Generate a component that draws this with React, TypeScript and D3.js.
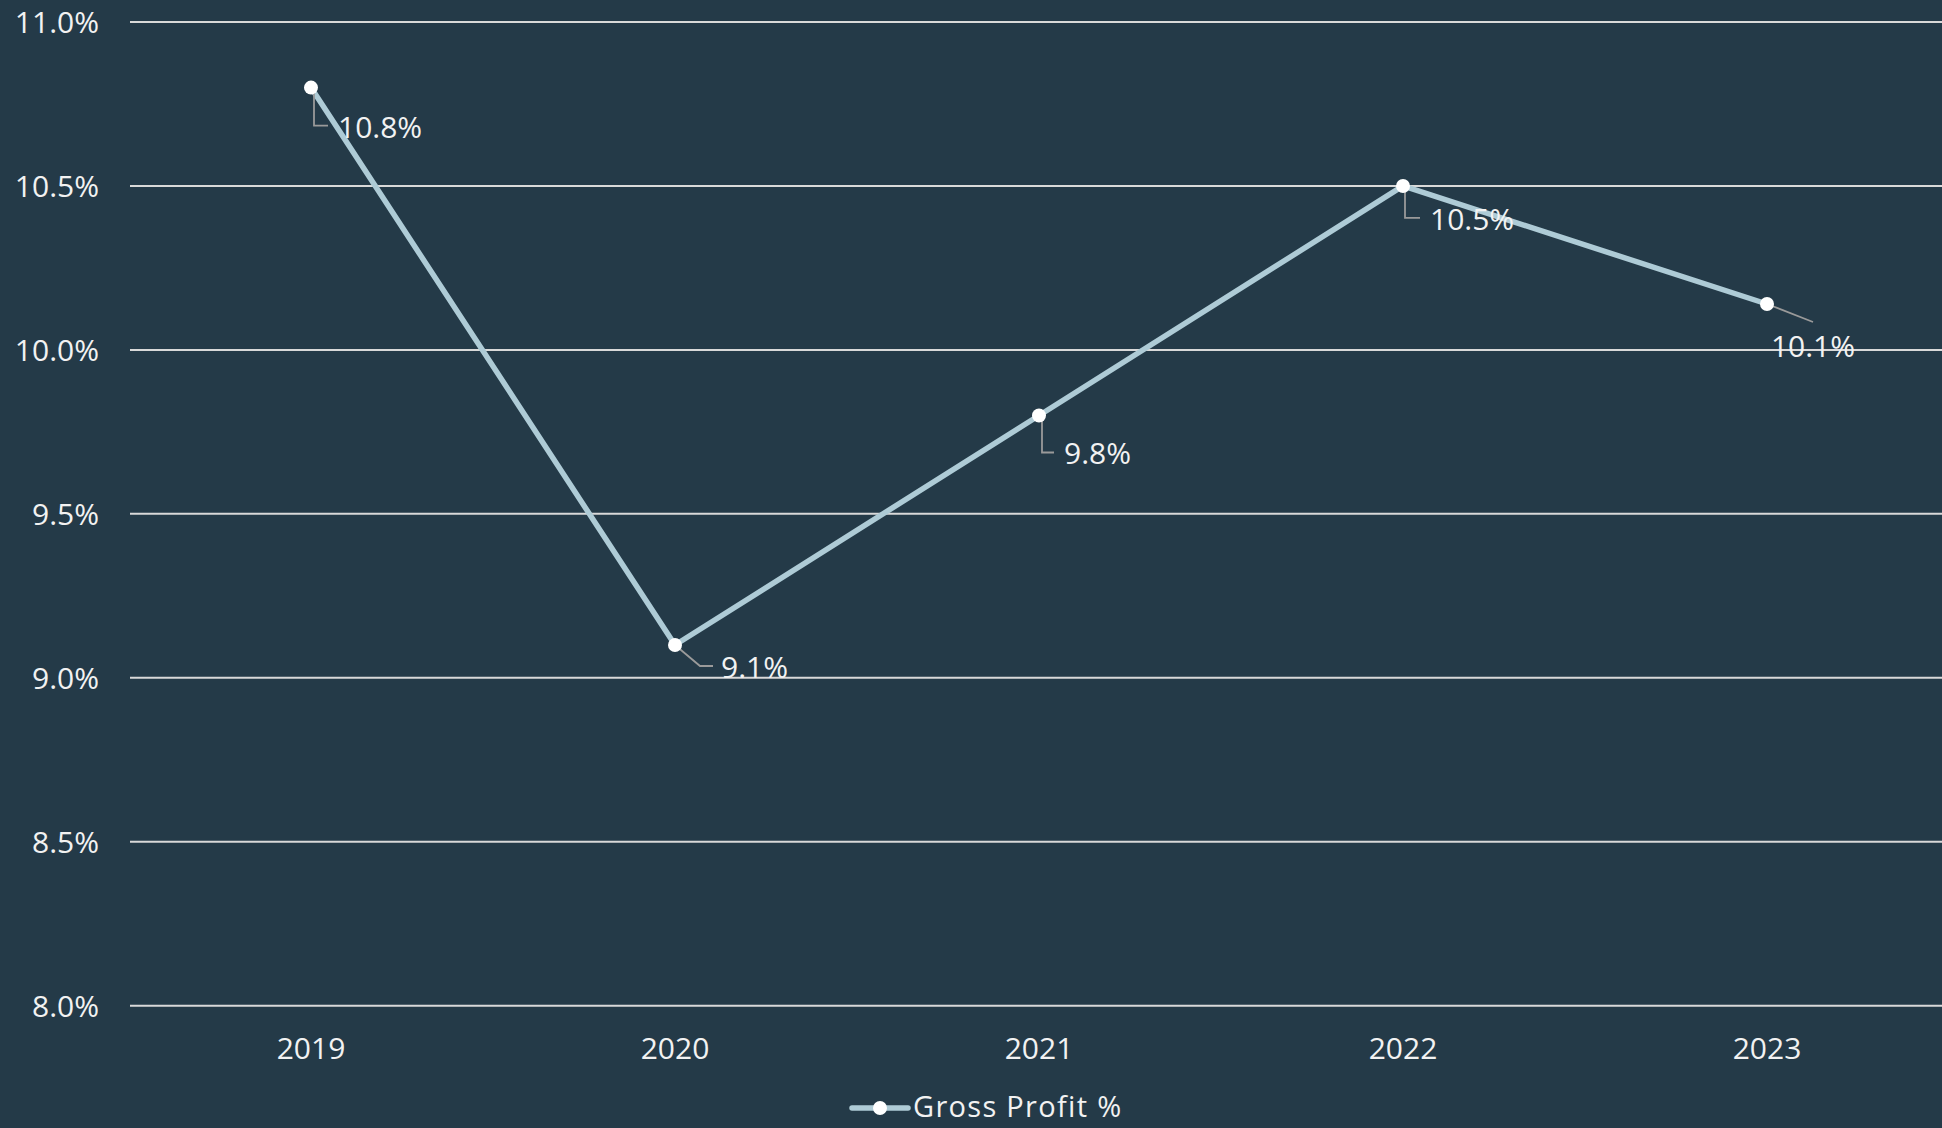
import React, { useEffect } from "react";
import * as d3 from "d3";

const years = ["2019", "2020", "2021", "2022", "2023"];
const grossProfit = [10.8, 9.1, 9.8, 10.5, 10.14];
const labels = ["10.8%", "9.1%", "9.8%", "10.5%", "10.1%"];
const yTicks = [8.0, 8.5, 9.0, 9.5, 10.0, 10.5, 11.0];
const seriesName = "Gross Profit %";

// leader-line placement (relative to each point)
const leaders = [
  { path: [[3, 0], [3, 38], [17, 38]], lx: 27, ly: 50, anchor: "start" },
  { path: [[0, 0], [25, 21], [38, 21]], lx: 46, ly: 33, anchor: "start" },
  { path: [[3, 0], [3, 37], [15, 37]], lx: 25, ly: 49, anchor: "start" },
  { path: [[2, 0], [2, 32], [17, 32]], lx: 27, ly: 44, anchor: "start" },
  { path: [[0, 0], [46, 18]], lx: 46, ly: 53, anchor: "middle" },
];

const W = 1942;
const H = 1128;
const BG = "#243a48";
const FONT = "'Open Sans', Lato, sans-serif";

export default function App() {
  useEffect(() => {
    document.body.style.margin = "0";
    document.body.style.background = BG;
  }, []);

  const x = d3.scaleBand<string>().domain(years).range([129, 1949]);
  const y = d3.scaleLinear().domain([8, 11]).range([1005.7, 22]);
  const cx = (d: string) => (x(d) ?? 0) + x.bandwidth() / 2;

  const line = d3
    .line<number>()
    .x((_, i) => cx(years[i]))
    .y((v) => y(v));

  return (
    <svg width={W} height={H} style={{ display: "block", background: BG }}>
      <rect x={0} y={0} width={W} height={H} fill={BG} />
      {yTicks.map((t) => (
        <g key={t}>
          <line x1={130} x2={W} y1={y(t)} y2={y(t)} stroke="#d9d9d9" strokeWidth={2} />
          <text
            x={99}
            y={y(t)}
            dy="0.36em"
            textAnchor="end"
            fill="#f2f2f2"
            fontFamily={FONT}
            fontSize={30}
          >
            {t.toFixed(1) + "%"}
          </text>
        </g>
      ))}
      {years.map((yr) => (
        <text
          key={yr}
          x={cx(yr)}
          y={1059}
          textAnchor="middle"
          fill="#f2f2f2"
          fontFamily={FONT}
          fontSize={30}
        >
          {yr}
        </text>
      ))}
      <path
        d={line(grossProfit) ?? ""}
        fill="none"
        stroke="#aecbd6"
        strokeWidth={5.5}
        strokeLinejoin="round"
      />
      {grossProfit.map((v, i) => {
        const px = cx(years[i]);
        const py = y(v);
        const L = leaders[i];
        const pts = L.path.map(([dx, dy]) => [px + dx, py + dy] as [number, number]);
        return (
          <g key={i}>
            <path
              d={d3.line()(pts) ?? ""}
              fill="none"
              stroke="#9a9a9a"
              strokeWidth={1.8}
            />
            <circle cx={px} cy={py} r={7} fill="#ffffff" />
            <text
              x={px + L.lx}
              y={py + L.ly}
              textAnchor={L.anchor as any}
              fill="#f2f2f2"
              fontFamily={FONT}
              fontSize={30}
            >
              {labels[i]}
            </text>
          </g>
        );
      })}
      <g>
        <line x1={852} x2={908} y1={1108} y2={1108} stroke="#aecbd6" strokeWidth={5.5} strokeLinecap="round" />
        <circle cx={880} cy={1108} r={7} fill="#ffffff" />
        <text x={913} y={1117} fill="#f2f2f2" fontFamily={FONT} fontSize={29} letterSpacing={1.3}>
          {seriesName}
        </text>
      </g>
    </svg>
  );
}
